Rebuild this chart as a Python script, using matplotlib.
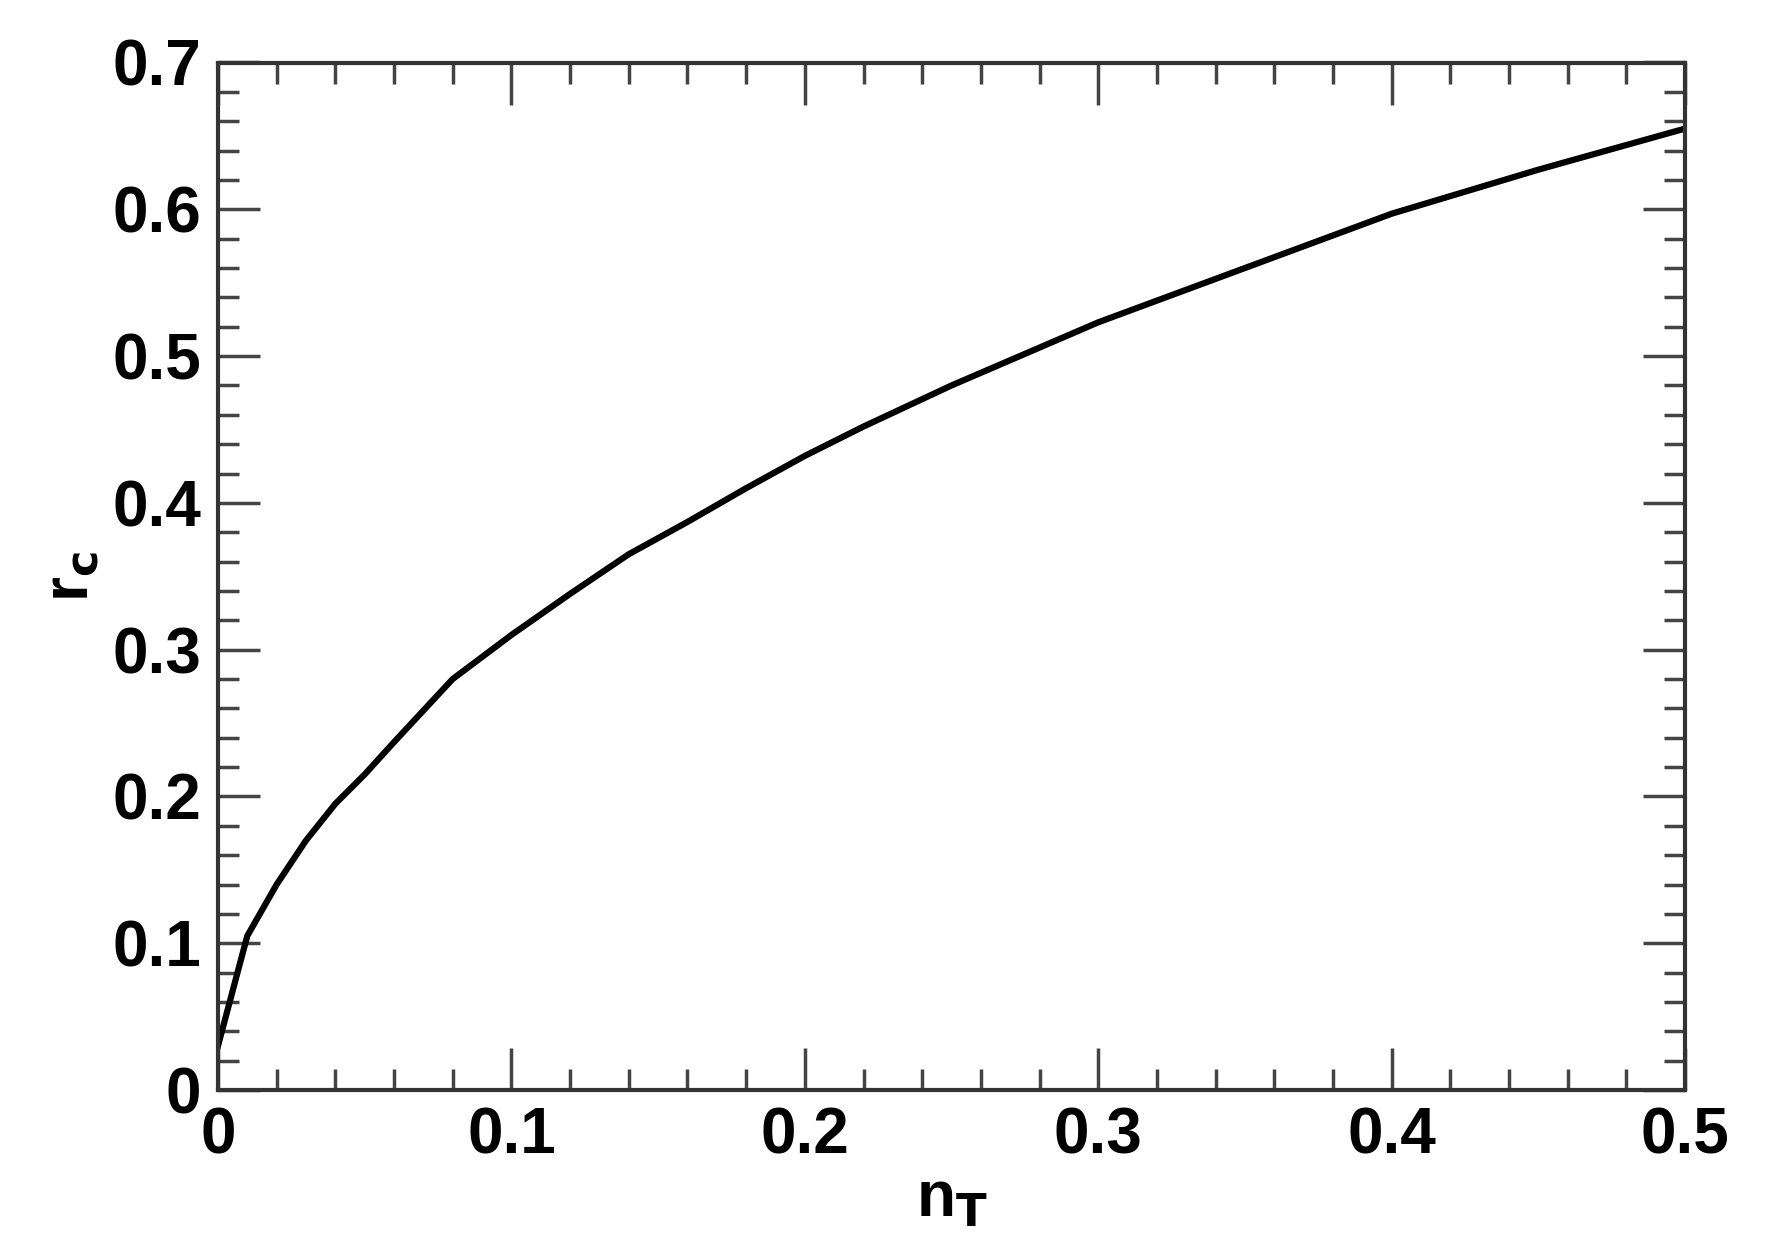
import matplotlib
matplotlib.use("Agg")
from matplotlib import pyplot as plt
from matplotlib.ticker import MultipleLocator

plt.rcParams['font.family'] = ['Liberation Sans', 'DejaVu Sans']
plt.rcParams['font.weight'] = 'bold'

n_t = [0.0, 0.01, 0.02, 0.03, 0.04, 0.05, 0.06, 0.08, 0.1, 0.12, 0.14, 0.16,
       0.18, 0.2, 0.22, 0.25, 0.3, 0.35, 0.4, 0.45, 0.5]
r_c = [0.03, 0.105, 0.14, 0.17, 0.195, 0.215, 0.237, 0.28, 0.31, 0.338, 0.365, 0.387,
       0.41, 0.432, 0.452, 0.48, 0.523, 0.56, 0.597, 0.627, 0.655]

fig = plt.figure(figsize=(17.72, 12.5), dpi=100)
ax = fig.add_axes([0.123, 0.128, 0.828, 0.822])
ax.plot(n_t, r_c, color="black", linewidth=4.5)

ax.set_xlim(0, 0.5)
ax.set_ylim(0, 0.7)
ax.xaxis.set_major_locator(MultipleLocator(0.1))
ax.xaxis.set_minor_locator(MultipleLocator(0.02))
ax.yaxis.set_major_locator(MultipleLocator(0.1))
ax.yaxis.set_minor_locator(MultipleLocator(0.02))

def fmt(v, pos):
    return "0" if abs(v) < 1e-9 else f"{v:.1f}"
ax.xaxis.set_major_formatter(fmt)
ax.yaxis.set_major_formatter(fmt)

ax.tick_params(which="both", direction="in", top=True, right=True,
               width=2.5, color="#444444", labelsize=46, pad=12)
ax.tick_params(which="major", length=30)
ax.tick_params(which="minor", length=15)
for s in ax.spines.values():
    s.set_linewidth(3)
    s.set_color("#333333")

ax.set_xlabel(r"n$_\mathbf{T}$", fontsize=46, fontweight="bold", labelpad=2)
ax.set_ylabel(r"r$_\mathbf{c}$", fontsize=46, fontweight="bold", labelpad=8)

fig.savefig("out.png")
